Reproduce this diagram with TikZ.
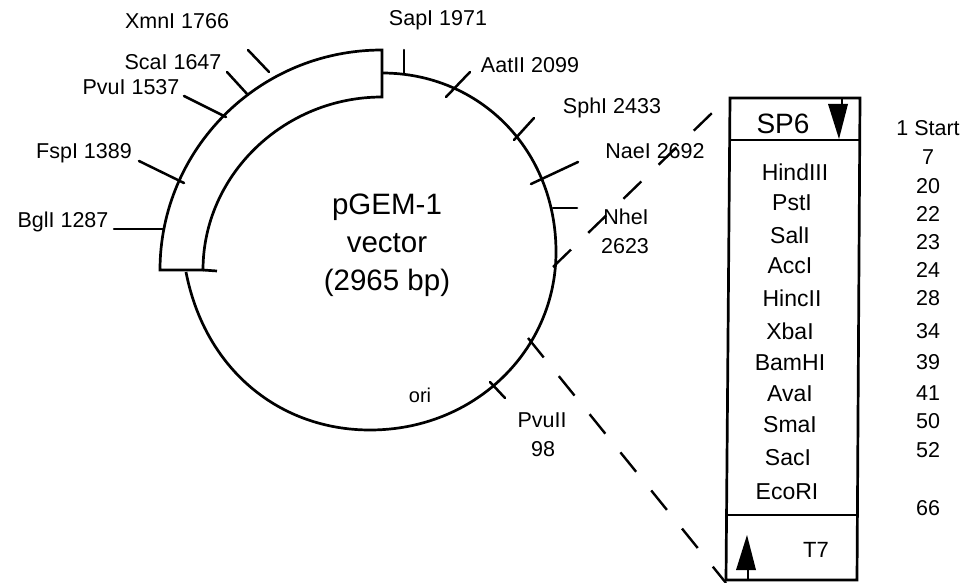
\documentclass[tikz,border=0pt]{standalone}
\usepackage{fontspec}
\setmainfont{Liberation Sans}
\tikzset{
 lbl/.style={inner sep=0pt,font=\fontsize{21.5}{24}\selectfont,black},
 big/.style={inner sep=0pt,font=\fontsize{29.5}{38}\selectfont,align=center},
 site/.style={inner sep=0pt,font=\fontsize{23}{25}\selectfont},
 num/.style={inner sep=0pt,font=\fontsize{21.5}{24}\selectfont},
 tick/.style={line width=2.5pt,line cap=round},
 curve/.style={line width=2.7pt},
 dashline/.style={line width=2.4pt,dash pattern=on 25pt off 24pt},
 frame/.style={line width=2.7pt},
}
\begin{document}
\begin{tikzpicture}[x=1pt,y=-1pt]
\useasboundingbox (0,0) rectangle (966,583);
% plasmid circle
\draw[curve] (382,73) .. controls (480,73) and (556,150) .. (556,252) .. controls (556,350) and (475,430) .. (370,430) .. controls (280,430) and (205,370) .. (186,272);
% vector box
\draw[curve,fill=white] (160,270) .. controls (160,150) and (258,50) .. (382,50) -- (382,97) .. controls (284,97) and (203,175) .. (203,270) -- cycle;
\draw[curve] (203,270) -- (217,271);
% ticks
\coordinate (t1a) at (248,50); \coordinate (t1b) at (269,72);
\coordinate (t2a) at (227,72); \coordinate (t2b) at (248,95);
\coordinate (t3a) at (184,96); \coordinate (t3b) at (226,117);
\coordinate (t4a) at (139,161); \coordinate (t4b) at (184,183);
\coordinate (t5a) at (114,229); \coordinate (t5b) at (164,229);
\coordinate (t6a) at (404,50); \coordinate (t6b) at (404,74);
\coordinate (t7a) at (470,72); \coordinate (t7b) at (446,97);
\coordinate (t8a) at (534,118); \coordinate (t8b) at (514,140);
\coordinate (t9a) at (578,162); \coordinate (t9b) at (531,184);
\coordinate (t10a) at (577,208); \coordinate (t10b) at (553,208);
\coordinate (t11a) at (505,398); \coordinate (t11b) at (490,382);
\foreach \i in {1,...,11} {\draw[tick] (t\i a) -- (t\i b);}
% dashed leaders
\coordinate (d1a) at (553,267); \coordinate (d1b) at (712,113);
\coordinate (d2a) at (528,338); \coordinate (d2b) at (726,583);
\draw[dashline] (d1a) -- (d1b);
\draw[dashline] (d2a) -- (d2b);
% labels
\node[lbl] (xmn) at (177,21) {XmnI 1766};
\node[lbl] (sca) at (173,62) {ScaI 1647};
\node[lbl] (pvu) at (131,87) {PvuI 1537};
\node[lbl] (fsp) at (84,153) {FspI 1389};
\node[lbl] (bgl) at (63,222) {BglI 1287};
\node[lbl] (sap) at (438,20) {SapI 1971};
\node[lbl] (aat) at (530,65) {AatII 2099};
\node[lbl] (sph) at (612,108) {SphI 2433};
\node[lbl] (nae) at (655,151) {NaeI 2692};
\node[lbl] (nhe) at (626,217) {NheI};
\node[lbl] (nhn) at (625,246) {2623};
\node[lbl] (pv2) at (542,420) {PvuII};
\node[lbl] (pvn) at (543,449) {98};
\node[lbl,font=\fontsize{20}{22}\selectfont] (ori) at (420,395) {ori};
\node[big] (name) at (387,245) {pGEM-1\\vector\\(2965 bp)};
% polylinker box
\coordinate (bTL) at (730,98); \coordinate (bTR) at (860,98);
\coordinate (bBL) at (726,580); \coordinate (bBR) at (857,580);
\draw[frame] (bTL) -- (bTR) -- (bBR) -- (bBL) -- cycle;
\coordinate (s1a) at (730,140); \coordinate (s1b) at (860,140);
\coordinate (s2a) at (727,515); \coordinate (s2b) at (857,515);
\draw[frame] (s1a) -- (s1b);
\draw[frame] (s2a) -- (s2b);
\node[inner sep=0pt,font=\fontsize{28}{30}\selectfont] (sp6) at (783,124) {SP6};
\node[lbl,font=\fontsize{22}{24}\selectfont] (t7) at (816,550) {T7};
\coordinate (a1t) at (842,98); \coordinate (a1b) at (839,139);
\draw[line width=2.4pt] (a1t) -- (842,106);
\fill (828,104) -- (848,104) -- (a1b) -- cycle;
\coordinate (a2b) at (748,580); \coordinate (a2t) at (747,535);
\draw[line width=2.8pt] (a2b) -- (748,565);
\fill (a2t) -- (736,570) -- (756,570) -- cycle;
% sites
\foreach \n/\t/\x/\y in {h/HindIII/795/172,p/PstI/792/203,s/SalI/790/235,a/AccI/790/266,c/HincII/792/298,x/XbaI/790/331,b/BamHI/790/363,v/AvaI/790/394,m/SmaI/790/425,e/SacI/788/458,r/EcoRI/787/492}
 {\node[site] (\n) at (\x,\y) {\t};}
\foreach \n/\t/\y in {n1/1 Start/128,n2/7/157,n3/20/186,n4/22/214,n5/23/242,n6/24/270,n7/28/298,n8/34/331,n9/39/362,n10/41/393,n11/50/421,n12/52/450,n13/66/508}
 {\node[num] (\n) at (928,\y) {\t};}
\end{tikzpicture}
\end{document}
